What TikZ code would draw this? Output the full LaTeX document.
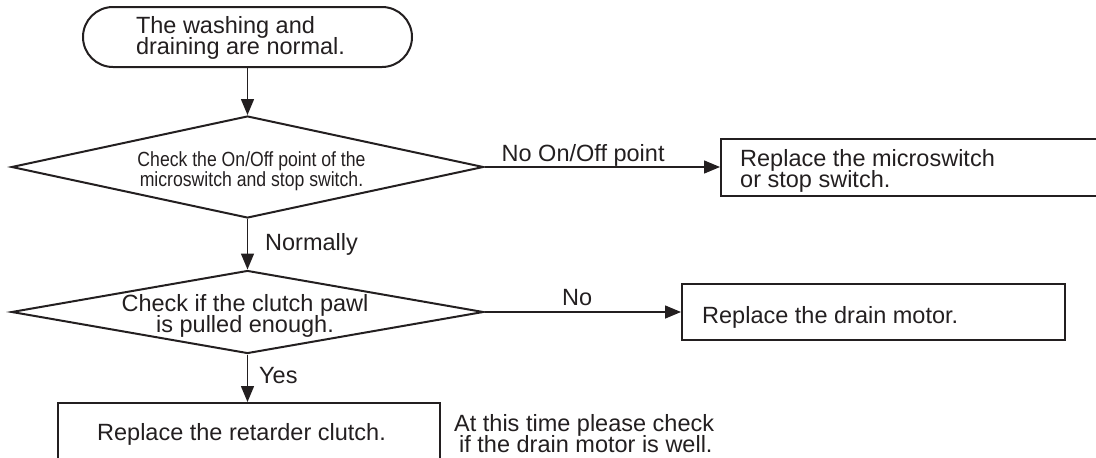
\documentclass[tikz,border=0pt]{standalone}
\usepackage{fontspec}
\setmainfont{Liberation Sans}
\newfontfamily\narrowfont[FakeStretch=0.86]{Liberation Sans}
\usetikzlibrary{arrows.meta,shapes.geometric}
\definecolor{ink}{HTML}{231F20}
\newcommand\mainfs{\fontsize{23.5pt}{21pt}\selectfont\lineskiplimit=-30pt\lineskip=0pt}
\newcommand\narrowfs{\narrowfont\fontsize{20.5pt}{20pt}\selectfont\lineskiplimit=-30pt\lineskip=0pt}
\tikzset{
  shp/.style={draw=ink, line width=2pt, inner sep=0pt},
  conn/.style={draw=ink, line width=1.5pt, -{Triangle[length=16pt,width=13pt]}},
  txt/.style={inner sep=0pt, text=ink, font=\mainfs},
}
\begin{document}
\begin{tikzpicture}[x=1pt,y=-1pt]
\useasboundingbox (0,0) rectangle (1096,458);
\clip (0,0) rectangle (1096,458);
% shapes
\node[shp, rectangle, rounded corners=30pt, minimum width=329pt, minimum height=60pt] (term) at (247.5,37) {};
\node[shp, diamond, minimum width=472pt, minimum height=102pt] (d1) at (247.5,167) {};
\node[shp, rectangle, minimum width=389pt, minimum height=57pt] (box1) at (915.5,167) {};
\node[shp, diamond, minimum width=472pt, minimum height=83pt] (d2) at (247.5,312) {};
\node[shp, rectangle, minimum width=383pt, minimum height=56pt] (drain) at (873.5,312) {};
\node[shp, rectangle, minimum width=382pt, minimum height=70pt] (box3) at (249,438) {};
% texts
\node[txt, align=left] (termt) at (240.5,38.4) {The washing and\\draining are normal.};
\node[txt, font=\narrowfs, align=center] (d1t) at (251.5,171.4) {Check the On/Off point of the\\microswitch and stop switch.};
\node[txt, align=left, anchor=west] (box1t) at (740,170.5) {Replace the microswitch\\or stop switch.};
\node[txt, align=center] (d2t) at (245,316.2) {Check if the clutch pawl\\is pulled enough.};
\node[txt, anchor=base west] (draint) at (702,323.5) {Replace the drain motor.};
\node[txt, anchor=base] (box3t) at (241.5,440) {Replace the retarder clutch.};
\node[txt, align=left, anchor=west] (note) at (454,434) {At this time please check\\\hspace*{5pt}if the drain motor is well.};
% connectors
\draw[conn] (term) -- (d1);
\draw[conn] (d1) -- (box1);
\draw[conn] (d1) -- (d2);
\draw[conn] (d2) -- (drain);
\draw[conn] (d2.south) -- (d2.south |- box3.north);
% labels
\node[txt, anchor=base west] (l1) at (501.5,161) {No On/Off point};
\node[txt, anchor=base west] (l2) at (265,250.7) {Normally};
\node[txt, anchor=base west] (l3) at (562,305) {No};
\node[txt, anchor=base west] (l4) at (259,383) {Yes};
\end{tikzpicture}
\end{document}
